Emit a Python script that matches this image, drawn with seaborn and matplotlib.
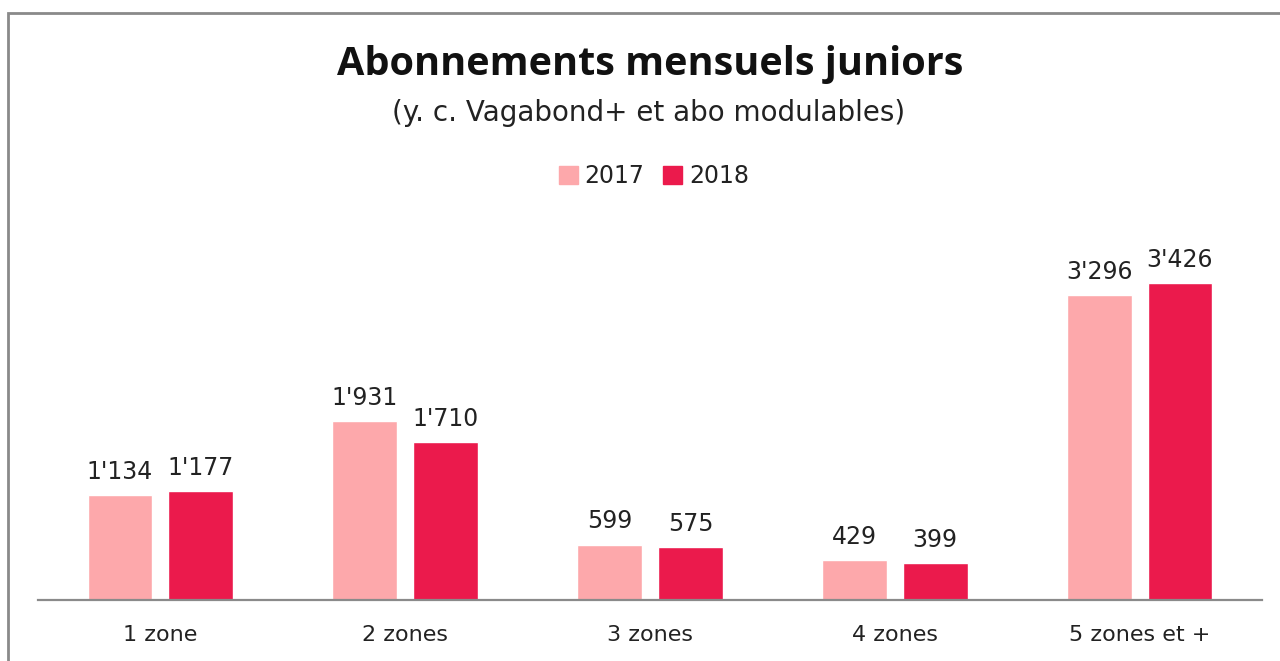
import seaborn as sns
import pandas as pd
from matplotlib import pyplot as plt
from matplotlib.patches import Rectangle

# Data
zones = ["1 zone", "2 zones", "3 zones", "4 zones", "5 zones et +"]
years = ["2017", "2018"]
values_2017 = [1134, 1931, 599, 429, 3296]
values_2018 = [1177, 1710, 575, 399, 3426]

colors = {"2017": "#FDA8AB", "2018": "#EB1A4C"}
text_col = "#222222"

df = pd.DataFrame({
    "zone": zones * 2,
    "year": ["2017"] * len(zones) + ["2018"] * len(zones),
    "n": values_2017 + values_2018,
})

sns.set_style("white")
plt.rcParams['font.family'] = ['DejaVu Sans']

W, H = 1280, 661
fig = plt.figure(figsize=(12.8, 6.61), dpi=100)
ax = fig.add_axes([38 / W, 1 - 600 / H, (1262 - 38) / W, (600 - 230) / H])

sns.barplot(
    data      = df,
    x         = "zone",
    y         = "n",
    hue       = "year",
    hue_order = years,
    order     = zones,
    palette   = colors,
    width     = 0.66,
    gap       = 0.2,
    saturation= 1,
    legend    = False,
    ax        = ax
)

ax.set_xlim(-0.5, 4.5)
ax.set_ylim(0, 4000)
ax.set_xlabel("")
ax.set_ylabel("")
ax.set_yticks([])
for side in ["top", "right", "left"]:
    ax.spines[side].set_visible(False)
ax.spines["bottom"].set_color("#8a8a8a")
ax.spines["bottom"].set_linewidth(1.6)
ax.tick_params(axis="x", length=0, pad=18, labelsize=16, labelcolor=text_col)

# value labels
for cont in ax.containers:
    labels = [f"{int(v):,}".replace(",", "'") for v in cont.datavalues]
    ax.bar_label(cont, labels=labels, padding=8, fontsize=17, color=text_col)

# legend
handles = [Rectangle((0, 0), 1, 1, color=colors[y]) for y in years]
fig.legend(handles, years, loc="center", bbox_to_anchor=(654 / W, 1 - 176 / H),
           ncol=2, frameon=False, fontsize=17, handlelength=0.8, handleheight=0.8,
           handletextpad=0.3, columnspacing=0.8, labelcolor=text_col)

# titles
fig.text(650 / W, 1 - 65 / H, "Abonnements mensuels juniors", ha="center", va="center",
         fontsize=28.5, fontweight="bold", color="#111111", family=["Open Sans", "DejaVu Sans"])
fig.text(649 / W, 1 - 113 / H, "(y. c. Vagabond+ et abo modulables)", ha="center",
         va="center", fontsize=20, color=text_col)

# frame around the chart (left and top edges visible)
fig.patches.append(Rectangle((8 / W, -0.1), 1.2, 0.1 + (H - 13) / H, transform=fig.transFigure,
                             fill=False, edgecolor="#8a8a8a", linewidth=2))

plt.savefig("out.png", dpi=100)
